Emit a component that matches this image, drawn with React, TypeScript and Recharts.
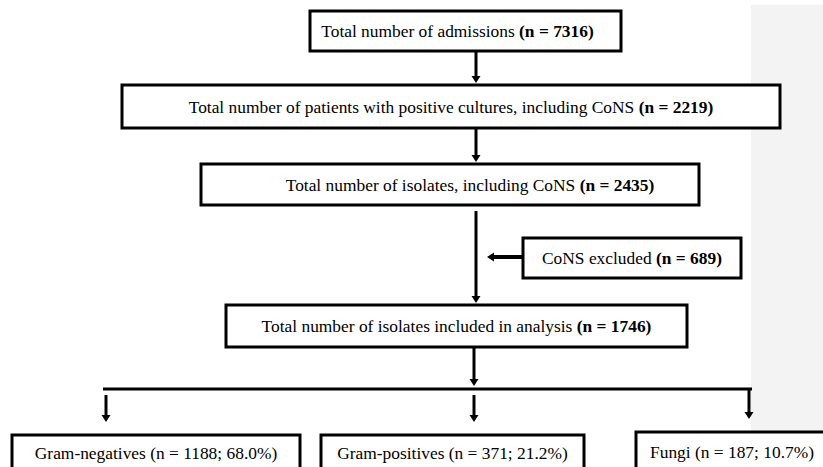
import React from "react";
import {
  ComposedChart,
  XAxis,
  YAxis,
  ReferenceArea,
  ReferenceLine,
} from "recharts";

// flow steps (top to bottom)
const stepTitles = [
  "Total number of admissions",
  "Total number of patients with positive cultures, including CoNS",
  "Total number of isolates, including CoNS",
  "CoNS excluded",
  "Total number of isolates included in analysis",
];
const stepCounts = [7316, 2219, 2435, 689, 1746];

// final split
const groupNames = ["Gram-negatives", "Gram-positives", "Fungi"];
const groupCounts = [1188, 371, 187];
const groupShares = [68.0, 21.2, 10.7];

// layout in axis units (x: 0..823, y: 0..467 top-down)
const stepBoxes = [
  { x1: 310, x2: 621, y1: 11, y2: 51, dx: -8 },
  { x1: 122, x2: 780, y1: 85, y2: 128, dx: 0 },
  { x1: 201, x2: 699, y1: 164, y2: 205, dx: 20 },
  { x1: 523, x2: 741, y1: 238, y2: 278, dx: 0 },
  { x1: 226, x2: 687, y1: 305, y2: 347, dx: 0 },
];
const groupBoxes = [
  { x1: 12, x2: 300, y1: 435, y2: 475 },
  { x1: 321, x2: 584, y1: 435, y2: 475 },
  { x1: 636, x2: 830, y1: 432, y2: 475 },
];
const connectors = [
  { from: [476, 51], to: [476, 83], head: true, w: 3 },
  { from: [476, 128], to: [476, 162], head: true, w: 3 },
  { from: [476, 211], to: [476, 303], head: true, w: 3 },
  { from: [522, 257], to: [487, 257], head: true, w: 4 },
  { from: [474, 347], to: [474, 386], head: true, w: 3 },
  { from: [103, 389], to: [752, 389], head: false, w: 3 },
  { from: [106, 395], to: [106, 422], head: true, w: 3 },
  { from: [474, 395], to: [474, 422], head: true, w: 3 },
  { from: [749, 389], to: [749, 419], head: true, w: 3 },
];

const FONT = "Liberation Serif";

function BoxShape(props: any) {
  const { x, y, width, height, text, bold, dx = 0, dy = 0 } = props;
  return (
    <g>
      <rect
        x={x}
        y={y}
        width={width}
        height={height}
        fill="#fff"
        stroke="#000"
        strokeWidth={3}
      />
      <text
        x={x + width / 2 + dx}
        y={y + height / 2 + dy}
        textAnchor="middle"
        dominantBaseline="central"
        fontFamily={FONT}
        fontSize={17.4}
        fill="#000"
      >
        <tspan>{text}</tspan>
        {bold ? <tspan fontWeight="bold">{bold}</tspan> : null}
      </text>
    </g>
  );
}

function Connector(props: any) {
  const { x1, y1, x2, y2, head, w } = props;
  const len = Math.hypot(x2 - x1, y2 - y1) || 1;
  const ux = (x2 - x1) / len;
  const uy = (y2 - y1) / len;
  const hl = 7;
  const hw = 4.5;
  const bx = x2 - ux * hl;
  const by = y2 - uy * hl;
  return (
    <g>
      <line
        x1={x1}
        y1={y1}
        x2={head ? bx : x2}
        y2={head ? by : y2}
        stroke="#000"
        strokeWidth={w}
      />
      {head && (
        <polygon
          points={`${x2},${y2} ${bx - uy * hw},${by + ux * hw} ${bx + uy * hw},${by - ux * hw}`}
          fill="#000"
        />
      )}
    </g>
  );
}

export default function App() {
  return (
    <div
      style={{
        position: "absolute",
        left: 0,
        top: 0,
        width: 823,
        height: 467,
        background: "#fff",
        overflow: "hidden",
      }}
    >
      <ComposedChart
        width={823}
        height={467}
        margin={{ top: 0, right: 0, bottom: 0, left: 0 }}
        data={[]}
      >
        <XAxis type="number" dataKey="x" domain={[0, 823]} allowDataOverflow hide />
        <YAxis
          type="number"
          dataKey="y"
          domain={[0, 467]}
          reversed
          allowDataOverflow
          hide
        />

        {/* grey band on the right */}
        <ReferenceArea
          x1={751}
          x2={823}
          y1={5}
          y2={467}
          fill="#f3f3f3"
          fillOpacity={1}
          stroke="none"
          ifOverflow="visible"
        />

        {connectors.map((c, i) => (
          <ReferenceLine
            key={"c" + i}
            segment={[
              { x: c.from[0], y: c.from[1] },
              { x: c.to[0], y: c.to[1] },
            ]}
            ifOverflow="visible"
            shape={(p: any) => <Connector {...p} head={c.head} w={c.w} />}
          />
        ))}

        {stepTitles.map((t, i) => {
          const b = stepBoxes[i];
          return (
            <ReferenceArea
              key={"s" + i}
              x1={b.x1}
              x2={b.x2}
              y1={b.y1}
              y2={b.y2}
              ifOverflow="visible"
              shape={(p: any) => (
                <BoxShape
                  {...p}
                  text={t + " "}
                  bold={`(n = ${stepCounts[i]})`}
                  dx={b.dx}
                />
              )}
            />
          );
        })}

        {groupNames.map((g, i) => {
          const b = groupBoxes[i];
          return (
            <ReferenceArea
              key={"g" + i}
              x1={b.x1}
              x2={b.x2}
              y1={b.y1}
              y2={b.y2}
              ifOverflow="visible"
              shape={(p: any) => (
                <BoxShape
                  {...p}
                  text={`${g} (n = ${groupCounts[i]}; ${groupShares[i].toFixed(1)}%)`}
                  dx={i === 2 ? -1 : 0}
                  dy={-2}
                />
              )}
            />
          );
        })}
      </ComposedChart>
    </div>
  );
}
